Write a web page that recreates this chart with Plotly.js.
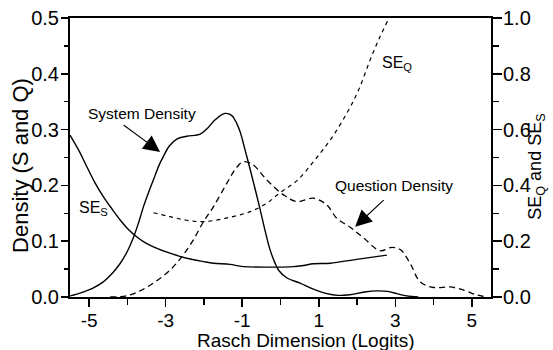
<!DOCTYPE html>
<html>
<head>
<meta charset="utf-8">
<script src="https://cdn.plot.ly/plotly-3.0.1.min.js"></script>
<style>html,body{margin:0;padding:0;background:#fff}#chart{width:553px;height:350px}</style>
</head>
<body>
<div id="chart"></div>
<script>
// System density (left axis)
var sysX = [-5.5,-5.2,-4.9,-4.63,-4.4,-4.19,-4.0,-3.845,-3.7,-3.58,-3.45,-3.32,-3.18,-3.06,-2.9,-2.71,-2.45,-2.1,-1.9,-1.7,-1.45,-1.27,-1.15,-1.05,-0.95,-0.79,-0.65,-0.53,-0.4,-0.27,-0.15,-0.05,0.17,0.51,0.86,1.21,1.5,1.8,2.2,2.52,2.8,3.04,3.3,3.6];
var sysY = [0.002,0.008,0.016,0.027,0.042,0.060,0.082,0.106,0.135,0.162,0.187,0.21,0.235,0.252,0.271,0.283,0.288,0.292,0.303,0.318,0.329,0.325,0.312,0.295,0.27,0.228,0.19,0.156,0.118,0.084,0.062,0.048,0.034,0.025,0.014,0.006,0.003,0.004,0.009,0.011,0.010,0.006,0.002,0.0];
// Question density (left axis)
var qX = [-4.45,-4.02,-3.67,-3.28,-2.89,-2.58,-2.28,-2.02,-1.75,-1.40,-1.16,-0.97,-0.72,-0.36,0.08,0.43,0.86,1.21,1.47,1.82,2.17,2.6,2.91,3.13,3.39,3.65,4.0,4.43,4.78,5.13,5.39];
var qY = [0.0,0.002,0.011,0.027,0.048,0.072,0.102,0.134,0.162,0.204,0.231,0.2425,0.237,0.21,0.183,0.171,0.177,0.165,0.141,0.125,0.106,0.083,0.089,0.085,0.060,0.027,0.017,0.018,0.0125,0.0036,0.0];
// SE of systems (right axis)
var seSX = [-5.5,-5.25,-5.06,-4.85,-4.63,-4.4,-4.19,-3.98,-3.76,-3.55,-3.32,-2.89,-2.45,-2.01,-1.75,-1.32,-0.97,0.34,0.6,0.86,1.3,1.99,2.78];
var seSY = [0.58,0.52,0.467,0.41,0.36,0.315,0.276,0.243,0.216,0.196,0.18,0.157,0.139,0.127,0.121,0.117,0.109,0.109,0.113,0.119,0.121,0.135,0.150];
// SE of questions (right axis)
var seQX = [-3.32,-2.89,-2.45,-2.01,-1.45,-0.79,-0.36,0.0,0.43,0.86,1.30,1.73,2.04,2.34,2.60,2.82];
var seQY = [0.302,0.288,0.275,0.270,0.282,0.306,0.336,0.375,0.417,0.485,0.563,0.658,0.742,0.849,0.933,0.995];

var xTickVals = [-5,-3,-1,1,3,5];
var xTickText = ['-5','-3','-1','1','3','5'];

var FONT = 'Arial, "Liberation Sans", sans-serif';
var traces = [
  {x: sysX, y: sysY, mode: 'lines', line: {color: '#000', width: 1.4, shape: 'spline'}, yaxis: 'y', name: 'System Density'},
  {x: qX, y: qY, mode: 'lines', line: {color: '#000', width: 1.3, dash: '6px,4px', shape: 'spline'}, yaxis: 'y', name: 'Question Density'},
  {x: seSX, y: seSY, mode: 'lines', line: {color: '#000', width: 1.4, shape: 'spline'}, yaxis: 'y2', name: 'SE_S'},
  {x: seQX, y: seQY, mode: 'lines', line: {color: '#000', width: 1.2, dash: '4px,4px', shape: 'spline'}, yaxis: 'y2', name: 'SE_Q'}
];

var layout = {
  width: 553, height: 350,
  margin: {l: 70, r: 62, t: 18, b: 53},
  paper_bgcolor: '#fff', plot_bgcolor: '#fff',
  showlegend: false,
  font: {family: FONT, color: '#000', size: 19},
  xaxis: {
    range: [-5.5, 5.5], tickmode: 'array', tickvals: xTickVals, ticktext: xTickText,
    ticks: 'outside', ticklen: 8, tickwidth: 1.5, tickcolor: '#000', ticklabelstandoff: -3,
    minor: {tickmode: 'linear', tick0: 0, dtick: 2, ticks: 'outside', ticklen: 6, tickwidth: 1.5, tickcolor: '#000'},
    showline: true, linecolor: '#000', linewidth: 2, mirror: true,
    showgrid: false, zeroline: false,
    tickfont: {family: FONT, size: 19, color: '#000'}
  },
  yaxis: {
    range: [0, 0.5], dtick: 0.1, tick0: 0, tickformat: '.1f',
    ticks: 'outside', ticklen: 7, tickwidth: 1.5, tickcolor: '#000', ticklabelstandoff: -2,
    minor: {dtick: 0.05, ticks: 'outside', ticklen: 4, tickwidth: 1.5, tickcolor: '#000'},
    showline: true, linecolor: '#000', linewidth: 2,
    showgrid: false, zeroline: false,
    tickfont: {family: FONT, size: 20, color: '#000'}
  },
  yaxis2: {
    range: [0, 1.0], dtick: 0.2, tick0: 0, tickformat: '.1f',
    overlaying: 'y', side: 'right',
    ticks: 'outside', ticklen: 9, tickwidth: 1.5, tickcolor: '#000', ticklabelstandoff: -3,
    minor: {dtick: 0.1, ticks: 'outside', ticklen: 6, tickwidth: 1.5, tickcolor: '#000'},
    showline: true, linecolor: '#000', linewidth: 2,
    showgrid: false, zeroline: false,
    tickfont: {family: FONT, size: 20, color: '#000'}
  },
  annotations: [
    {x: 0.5606, y: -0.1577, xref: 'paper', yref: 'paper', text: 'Rasch Dimension (Logits)', showarrow: false, font: {size: 19}, xanchor: 'center', yanchor: 'middle'},
    {x: -0.119, y: 0.473, xref: 'paper', yref: 'paper', text: 'Density (S and Q)', textangle: -90, showarrow: false, font: {size: 22}, xanchor: 'center', yanchor: 'middle'},
    {x: 1.1086, y: 0.466, xref: 'paper', yref: 'paper', text: 'SE<sub>Q</sub> and SE<sub>S</sub>', textangle: -90, showarrow: false, font: {size: 18}, xanchor: 'center', yanchor: 'middle'},
    {x: -3.618, y: 0.3297, xref: 'x', yref: 'y', text: 'System Density', showarrow: false, font: {size: 15.5}, xanchor: 'center', yanchor: 'middle'},
    {x: -3.147, y: 0.260, xref: 'x', yref: 'y', text: '', showarrow: true, ax: -38, ay: -28, arrowhead: 2, arrowsize: 3, arrowwidth: 1.1, arrowcolor: '#000'},
    {x: 2.97, y: 0.1998, xref: 'x', yref: 'y', text: 'Question Density', showarrow: false, font: {size: 15.5}, xanchor: 'center', yanchor: 'middle'},
    {x: 1.951, y: 0.126, xref: 'x', yref: 'y', text: '', showarrow: true, ax: 30, ay: -28, arrowhead: 2, arrowsize: 3, arrowwidth: 1.1, arrowcolor: '#000'},
    {x: -5.325, y: 0.158, xref: 'x', yref: 'y', text: 'SE<sub>S</sub>', showarrow: false, font: {size: 16}, xanchor: 'left', yanchor: 'middle'},
    {x: 2.605, y: 0.418, xref: 'x', yref: 'y', text: 'SE<sub>Q</sub>', showarrow: false, font: {size: 16}, xanchor: 'left', yanchor: 'middle'}
  ]
};

Plotly.newPlot('chart', traces, layout, {displayModeBar: false, staticPlot: true});
</script>
</body>
</html>
